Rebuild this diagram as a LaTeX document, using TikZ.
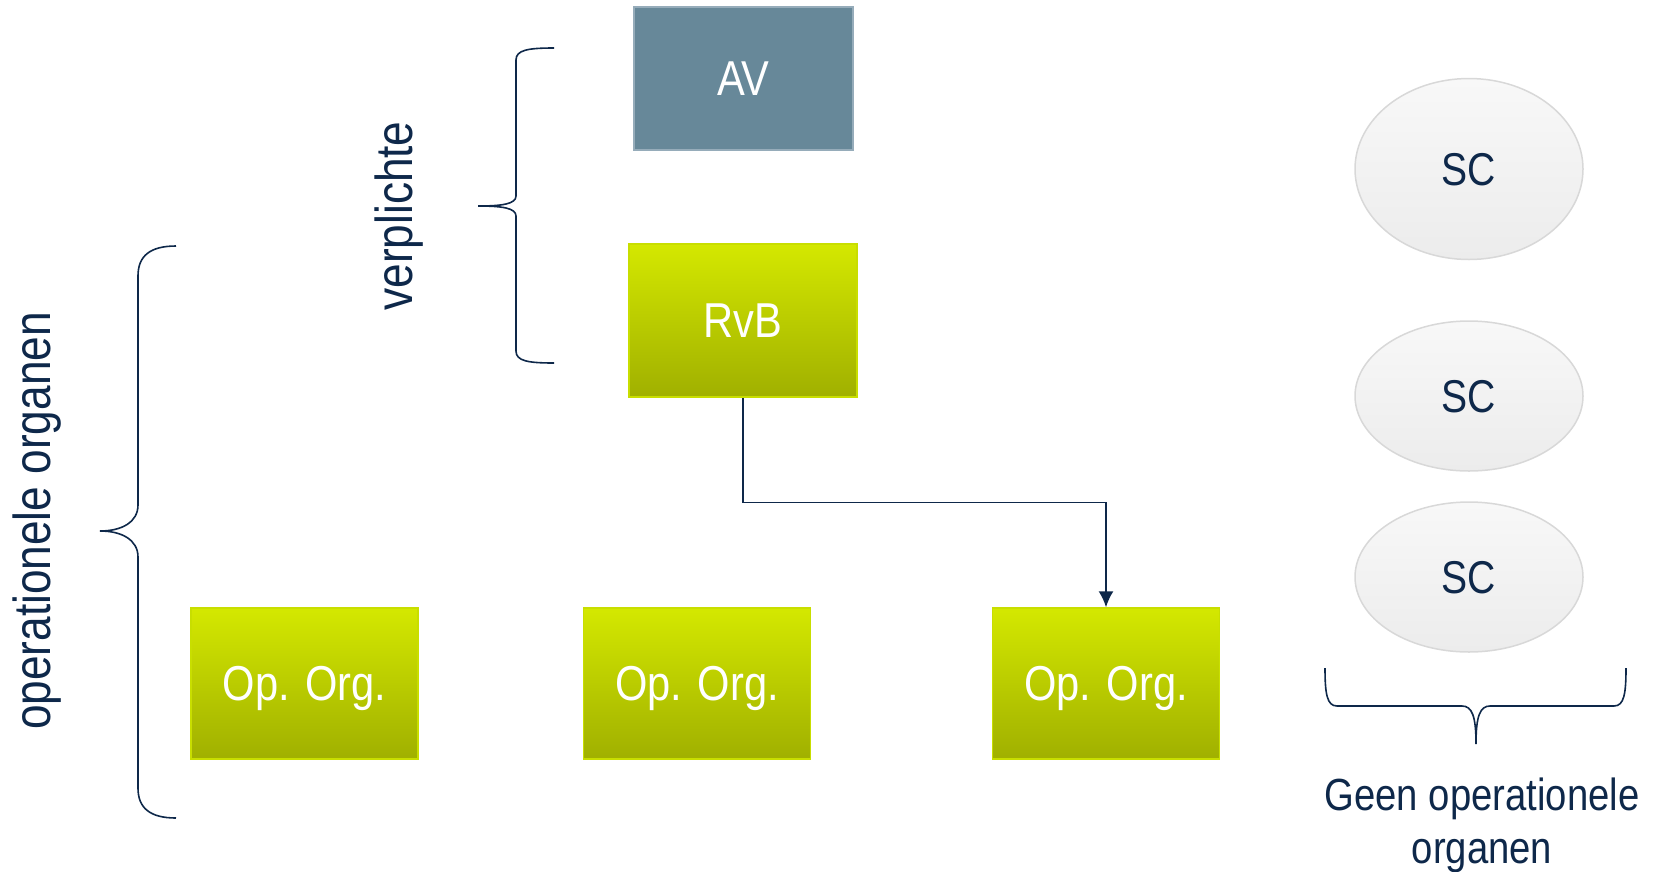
\documentclass[tikz,border=0pt]{standalone}
\usepackage{fontspec}
\setmainfont{Liberation Sans}[FakeStretch=0.85]
\usetikzlibrary{shapes,arrows.meta,calc,positioning}
\definecolor{avBlue}{RGB}{103,136,153}
\definecolor{avLine}{RGB}{150,172,186}
\definecolor{orgTop}{RGB}{212,232,0}
\definecolor{orgBot}{RGB}{160,176,0}
\definecolor{orgLine}{RGB}{200,222,0}
\definecolor{scTop}{RGB}{248,248,248}
\definecolor{scBot}{RGB}{236,236,236}
\definecolor{scLine}{RGB}{216,216,216}
\definecolor{navy}{RGB}{14,40,74}

\begin{document}
\begin{tikzpicture}[x=1pt,y=-1pt,
    orgbox/.style={rectangle, draw=orgLine, line width=1.5pt, top color=orgTop, bottom color=orgBot,
      text=white, minimum width=227pt, minimum height=151pt, text depth=0pt, font=\fontsize{49}{50}\selectfont},
    scball/.style={ellipse, draw=scLine, line width=1.5pt, top color=scTop, bottom color=scBot,
      text=navy, minimum width=228pt, minimum height=150pt, text depth=0pt, font=\fontsize{46}{48}\selectfont},
    bracket/.style={draw=navy, line width=1.6pt},
    sidelabel/.style={text=navy, rotate=90, font=\fontsize{52}{54}\selectfont},
    arr/.style={draw=navy, line width=1.6pt, -{Latex[length=16pt,width=15pt]}}]

      \useasboundingbox (0,0) rectangle (1660,871);

      % the boxes
      \node[rectangle, draw=avLine, line width=1.5pt, fill=avBlue, text=white, text depth=0pt,
        minimum width=219pt, minimum height=143pt, font=\fontsize{49}{50}\selectfont] (av) at (743.5,78.5) {AV};
      \node[orgbox, minimum width=228pt, minimum height=153pt] (rvb) at (743,320.5) {RvB};
      \node[orgbox] (org1) at (304.5,683.5) {Op. Org.};
      \node[orgbox] (org2) at (697,683.5) {Op. Org.};
      \node[orgbox] (org3) at (1106,683.5) {Op. Org.};

      % the committees
      \node[scball, minimum height=181pt] (sc1) at (1469,169) {SC};
      \node[scball] (sc2) at (1469,396) {SC};
      \node[scball] (sc3) at (1469,577) {SC};

      % RvB to the operational organ
      \draw[arr] (rvb.south) -- ($(rvb.south)!0.5!(rvb.south|-org3.north)$) -| (org3.north);

      % brace: verplichte
      \draw[bracket] (554,48) .. controls (528,48) and (516,50) .. (516,60) -- (516,196)
        .. controls (516,204) and (502,206) .. (478,206)
        .. controls (502,206) and (516,208) .. (516,216) -- (516,351)
        .. controls (516,361) and (528,363) .. (554,363);
      \node[sidelabel] (verpl) at (399,216) {verplichte};

      % brace: operationele organen
      \draw[bracket] (176,246) .. controls (150,246) and (138,256) .. (138,276) -- (138,505)
        .. controls (138,522) and (122,531) .. (100,531)
        .. controls (122,531) and (138,540) .. (138,557) -- (138,788)
        .. controls (138,808) and (150,818) .. (176,818);
      \node[sidelabel] (oper) at (37,521) {operationele organen};

      % brace: geen operationele organen
      \draw[bracket] (1325,668) .. controls (1325,694) and (1327,706) .. (1337,706) -- (1462,706)
        .. controls (1472,706) and (1476,716) .. (1476,744)
        .. controls (1476,716) and (1480,706) .. (1490,706) -- (1614,706)
        .. controls (1624,706) and (1626,694) .. (1626,668);
      \node[text=navy, align=center, font=\fontsize{45}{53}\selectfont] (geen) at (1482,825)
        {Geen operationele\\organen};

\end{tikzpicture}
\end{document}
